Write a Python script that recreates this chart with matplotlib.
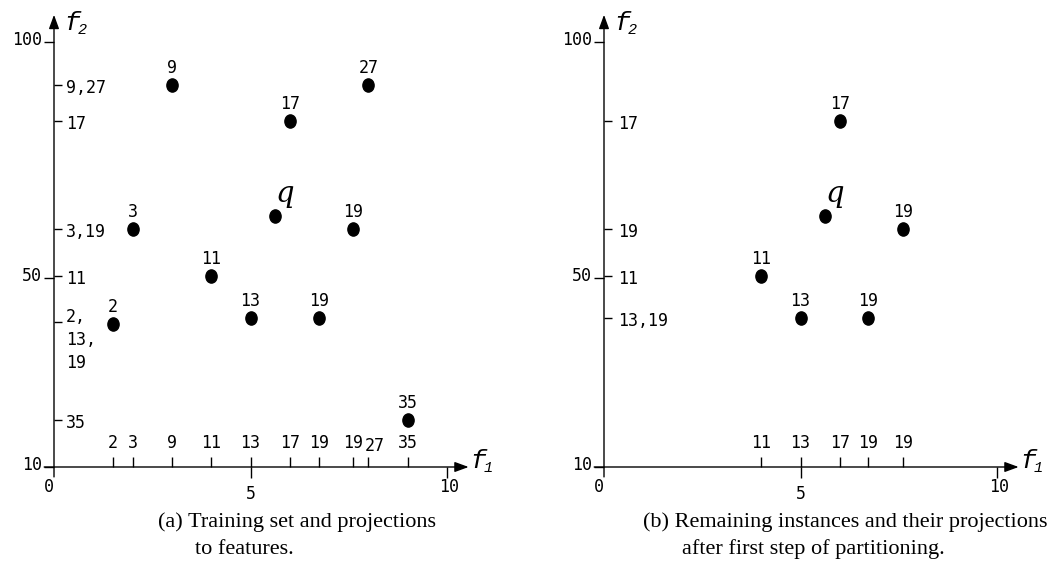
import matplotlib
matplotlib.use('Agg')
import matplotlib.pyplot as plt
from matplotlib.path import Path
from matplotlib.transforms import Affine2D

# ---------------- data ----------------
# Panel (a): training set
ids_a = ['9', '27', '17', '3', '19', '11', '13', '19', '2', '35']
f1_a = [3.0, 8.0, 6.0, 2.0, 7.6, 4.0, 5.0, 6.75, 1.5, 9.0]
f2_a = [91.0, 91.0, 83.3, 60.4, 60.4, 50.5, 41.6, 41.6, 40.3, 20.0]
yproj_a_vals = [91.0, 83.3, 60.4, 50.5, 40.8, 20.0]
yproj_a_labels = ['9,27', '17', '3,19', '11', '2,\n13,\n19', '35']

# Panel (b): remaining instances
ids_b = ['17', '19', '11', '13', '19']
f1_b = [6.0, 7.6, 4.0, 5.0, 6.73]
f2_b = [83.3, 60.4, 50.5, 41.6, 41.6]
yproj_b_vals = [83.3, 60.4, 50.5, 41.6]
yproj_b_labels = ['17', '19', '11', '13,19']

# query point
q_f1, q_f2 = 5.62, 63.2

x_num_ticks = [0, 5, 10]
x_num_labels = ['0', '5', '10']
y_num_ticks = [10, 50, 100]
y_num_labels = ['10', '50', '100']

captions_a = ['(a) Training set and projections', 'to features.']
captions_b = ['(b) Remaining instances and their projections',
              'after first step of partitioning.']

# ---------------- layout ----------------
W, H = 1049, 572
fig = plt.figure(figsize=(W / 100, H / 100), dpi=100)

PX_X = 39.3     # px per f1 unit
PX_Y = 4.72     # px per f2 unit
ORIG_Y_PX = 467
XL = (-1.2, 11.2)
YL = (0, 108)

MONO = 'DejaVu Sans Mono'
ITAL = ['Liberation Mono', 'DejaVu Sans Mono']
FS = 12

# slightly tall elliptical dot
DOT = Path.unit_circle().transformed(Affine2D().scale(0.85, 1.0))


def make_axes(origin_x_px):
    left_px = origin_x_px + XL[0] * PX_X
    width_px = (XL[1] - XL[0]) * PX_X
    bottom_px = ORIG_Y_PX + (10 - YL[0]) * PX_Y
    top_px = ORIG_Y_PX - (YL[1] - 10) * PX_Y
    ax = fig.add_axes([left_px / W, (H - bottom_px) / H,
                       width_px / W, (bottom_px - top_px) / H])
    ax.set_xlim(*XL)
    ax.set_ylim(*YL)
    ax.axis('off')
    return ax


def axis_label(ax, x, y, sub):
    ax.text(x, y, 'f', fontsize=19, family=ITAL, style='italic',
            ha='left', va='center')
    ax.annotate(sub, (x, y), xytext=(10, -5), textcoords='offset points',
                fontsize=11, family=ITAL, style='italic',
                ha='left', va='center')


def draw_panel(ax, ids, f1, f2, yvals, ylabels, ylab_x):
    k = dict(color='k', lw=1.0, clip_on=False, solid_capstyle='butt')
    arrow = dict(arrowstyle='-|>,head_length=0.6,head_width=0.22',
                 lw=1.0, color='k', mutation_scale=14, shrinkA=0, shrinkB=0)
    # axes with arrows
    ax.annotate('', xy=(10.55, 10), xytext=(-0.25, 10),
                arrowprops=arrow, annotation_clip=False)
    ax.annotate('', xy=(0, 105.8), xytext=(0, 7.9),
                arrowprops=arrow, annotation_clip=False)
    axis_label(ax, 0.25, 104.0, '2')
    axis_label(ax, 10.58, 11.3, '1')

    # numeric ticks on x (below axis)
    for v in x_num_ticks:
        if v != 0:
            ax.plot([v, v], [10, 10 - 11 / PX_Y], **k)
    ax.text(-0.13, 10 - 20 / PX_Y, x_num_labels[0], fontsize=FS, family=MONO,
            ha='center', va='center')
    ax.text(5, 10 - 27 / PX_Y, x_num_labels[1], fontsize=FS, family=MONO,
            ha='center', va='center')
    ax.text(10.05, 10 - 20 / PX_Y, x_num_labels[2], fontsize=FS, family=MONO,
            ha='center', va='center')

    # numeric ticks on y (left of axis)
    for v, lab in zip(y_num_ticks, y_num_labels):
        ax.plot([-0.25, 0], [v, v], **k)
        ax.text(-0.3, v + 0.4, lab, fontsize=FS, family=MONO,
                ha='right', va='center')

    # projections on f1 axis
    order = sorted(range(len(f1)), key=lambda i: f1[i])
    prev = None
    for i in order:
        x, lab = f1[i], ids[i]
        ax.plot([x, x], [10, 10 + 10 / PX_Y], **k)
        dx, dy = 0, 0
        if prev is not None and x - prev < 0.45:
            dx, dy = 6, -3          # nudge crowded label
        ax.annotate(lab, (x, 10 + 24 / PX_Y), xytext=(dx, dy),
                    textcoords='offset pixels', fontsize=FS, family=MONO,
                    ha='center', va='center')
        prev = x

    # projections on f2 axis
    for y, lab in zip(yvals, ylabels):
        ax.plot([0, 0.2], [y, y], **k)
        if '\n' in lab:
            ax.text(ylab_x, y + 2.9, lab, fontsize=FS, family=MONO,
                    ha='left', va='top', linespacing=1.35)
        else:
            ax.text(ylab_x, y - 0.6, lab, fontsize=FS, family=MONO,
                    ha='left', va='center')

    # instances
    ax.plot(f1, f2, marker=DOT, ls='none', color='k', ms=9.5, clip_on=False)
    for x, y, lab in zip(f1, f2, ids):
        ax.annotate(lab, (x, y), xytext=(0, 12), textcoords='offset points',
                    fontsize=FS, family=MONO, ha='center', va='center')

    # query
    ax.plot([q_f1], [q_f2], marker=DOT, ls='none', color='k', ms=9.5,
            clip_on=False)
    ax.annotate('q', (q_f1, q_f2), xytext=(7, 16), textcoords='offset points',
                fontsize=21, family='DejaVu Serif', style='italic',
                weight='light', ha='center', va='center')


ax_a = make_axes(54)
draw_panel(ax_a, ids_a, f1_a, f2_a, yproj_a_vals, yproj_a_labels, 0.3)
ax_b = make_axes(604)
draw_panel(ax_b, ids_b, f1_b, f2_b, yproj_b_vals, yproj_b_labels, 0.36)

SERIF = 'Liberation Serif'
fig.text(158 / W, 1 - 527 / H, captions_a[0], fontsize=16, family=SERIF,
         ha='left', va='baseline')
fig.text(195 / W, 1 - 554 / H, captions_a[1], fontsize=16, family=SERIF,
         ha='left', va='baseline')
fig.text(643 / W, 1 - 527 / H, captions_b[0], fontsize=16, family=SERIF,
         ha='left', va='baseline')
fig.text(682 / W, 1 - 554 / H, captions_b[1], fontsize=16, family=SERIF,
         ha='left', va='baseline')

fig.savefig('out.png', dpi=100)
